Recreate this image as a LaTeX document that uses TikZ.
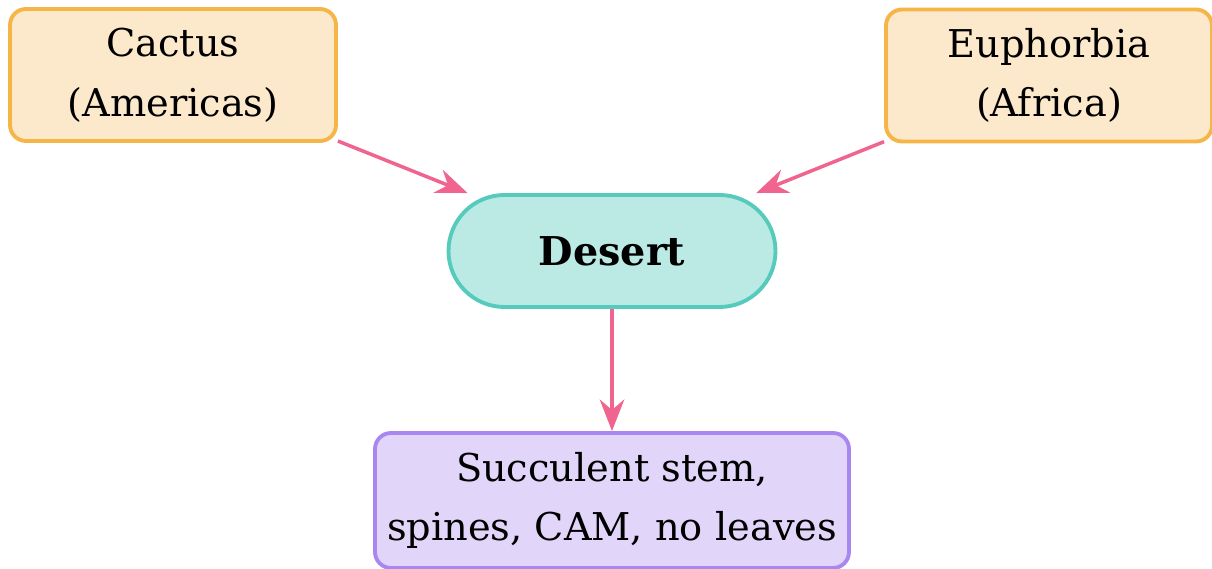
\documentclass[tikz,border=0pt]{standalone}
\usepackage{fontspec}
\setmainfont{DejaVu Serif}
\usetikzlibrary{arrows.meta}
\definecolor{plantfill}{HTML}{FCE8CB}
\definecolor{plantdraw}{HTML}{F5B547}
\definecolor{desertfill}{HTML}{BBEAE4}
\definecolor{desertdraw}{HTML}{56CBBD}
\definecolor{traitfill}{HTML}{E1D6FA}
\definecolor{traitdraw}{HTML}{A888F0}
\definecolor{linkcolor}{HTML}{F06590}
\tikzset{
  plantbox/.style={draw=plantdraw,fill=plantfill,line width=1.1pt,rounded corners=0.16cm,
    minimum width=3.26cm,minimum height=1.32cm,align=center,
    font=\fontsize{10.9}{17}\selectfont},
  desertbox/.style={draw=desertdraw,fill=desertfill,line width=1.1pt,rounded corners=0.56cm,
    minimum width=3.27cm,minimum height=1.12cm,font=\fontsize{11.3}{14}\selectfont\bfseries},
  traitbox/.style={draw=traitdraw,fill=traitfill,line width=1.1pt,rounded corners=0.16cm,
    minimum width=4.74cm,minimum height=1.35cm,align=center,
    font=\fontsize{10.9}{17}\selectfont},
  link/.style={draw=linkcolor,line width=1pt,-{Stealth[length=9pt,width=7pt,inset=3pt]}}
}
\begin{document}
\begin{tikzpicture}[line join=round]
\useasboundingbox (0,0) rectangle (12.12,5.69);
\node[plantbox] (cactus) at (1.73,4.94) {Cactus\\(Americas)};
\node[plantbox] (euphorbia) at (10.49,4.935) {Euphorbia\\(Africa)};
\node[desertbox] (desert) at (6.12,3.18) {Desert};
\node[traitbox] (traits) at (6.12,0.685) {Succulent stem,\\spines, CAM, no leaves};

\draw[link] (cactus) -- (desert);
\draw[link] (euphorbia) -- (desert);
\draw[link] (desert) -- (traits);
\end{tikzpicture}
\end{document}
